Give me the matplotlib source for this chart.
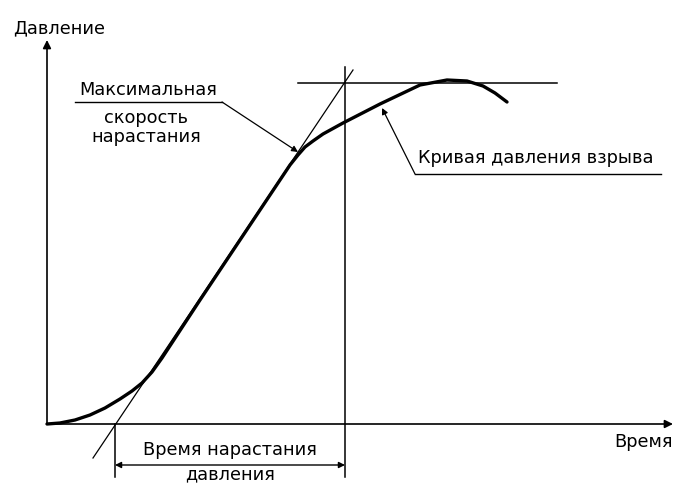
import matplotlib.pyplot as plt
import numpy as np

# explosion pressure curve (time, pressure in px-like units)
curve_t = [0, 13, 28, 43, 58, 73, 85, 95, 105, 115, 153, 193, 223, 243, 251, 258, 266, 276, 296, 333, 373, 400, 420, 436, 448, 460]
curve_p = [0, 1, 4, 9, 16, 25, 33, 41, 52, 66, 124, 184, 229, 259, 269, 277, 283, 290, 301, 320, 339, 344, 343, 338, 331, 322]

# tangent at max rate of rise
tangent_t = [46, 306]
tangent_p = [-34, 354]

# max pressure level
pmax_t = [251, 510]
pmax_p = [341, 341]

# rise time marks
t_start = 68
t_end = 298
mark_p = [-53, 357]
span_p = -41

lbl_y = 'Давление'
lbl_x = 'Время'
lbl_rate = ['Максимальная', 'скорость', 'нарастания']
lbl_curve = 'Кривая давления взрыва'
lbl_rise = ['Время нарастания', 'давления']

plt.rcParams['font.family'] = ['DejaVu Sans']
fig = plt.figure(figsize=(6.76, 4.83), dpi=100)
ax = fig.add_axes([0, 0, 1, 1])
ax.set_xlim(-47, 629)
ax.set_ylim(-59, 424)
ax.set_axis_off()

# axes with arrows
arr = dict(arrowstyle='-|>', color='k', lw=1.2, mutation_scale=12, shrinkA=0, shrinkB=0)
ax.annotate('', xy=(0, 384), xytext=(0, 0), arrowprops=arr)
ax.annotate('', xy=(626, 0), xytext=(0, 0), arrowprops=arr)

ax.plot(curve_t, curve_p, color='k', lw=2.4, solid_capstyle='round', solid_joinstyle='round')
ax.plot(tangent_t, tangent_p, color='k', lw=0.9)
ax.plot(pmax_t, pmax_p, color='k', lw=1.1)
ax.plot([t_end, t_end], mark_p, color='k', lw=1.1)
ax.plot([t_start, t_start], [0, mark_p[0]], color='k', lw=1.1)

# rise time span
ax.annotate('', xy=(t_end, span_p), xytext=(t_start, span_p),
            arrowprops=dict(arrowstyle='<|-|>', color='k', lw=1.0, mutation_scale=9,
                            shrinkA=0, shrinkB=0))

fs = 12.8
ax.text(-34, 396, lbl_y, fontsize=fs, ha='left', va='center')
ax.text(626, -18, lbl_x, fontsize=fs, ha='right', va='center')

# max rate label
ax.text(101, 334, lbl_rate[0], fontsize=fs, ha='center', va='center')
ax.text(99, 306, lbl_rate[1], fontsize=fs, ha='center', va='center')
ax.text(99, 287, lbl_rate[2], fontsize=fs, ha='center', va='center')
ax.plot([28, 175], [322, 322], color='k', lw=1.0)
ax.annotate('', xy=(251, 272), xytext=(175, 322),
            arrowprops=dict(arrowstyle='-|>', color='k', lw=0.9, mutation_scale=9,
                            shrinkA=0, shrinkB=0))

# curve label
ax.text(371, 266, lbl_curve, fontsize=fs, ha='left', va='center')
ax.plot([368, 614], [250, 250], color='k', lw=1.0)
ax.annotate('', xy=(335, 316), xytext=(368, 250),
            arrowprops=dict(arrowstyle='-|>', color='k', lw=0.9, mutation_scale=9,
                            shrinkA=0, shrinkB=0))

ax.text(183, -26, lbl_rise[0], fontsize=fs, ha='center', va='center')
ax.text(183, -50, lbl_rise[1], fontsize=fs, ha='center', va='center')

fig.savefig('out.png', dpi=100, facecolor='white')
